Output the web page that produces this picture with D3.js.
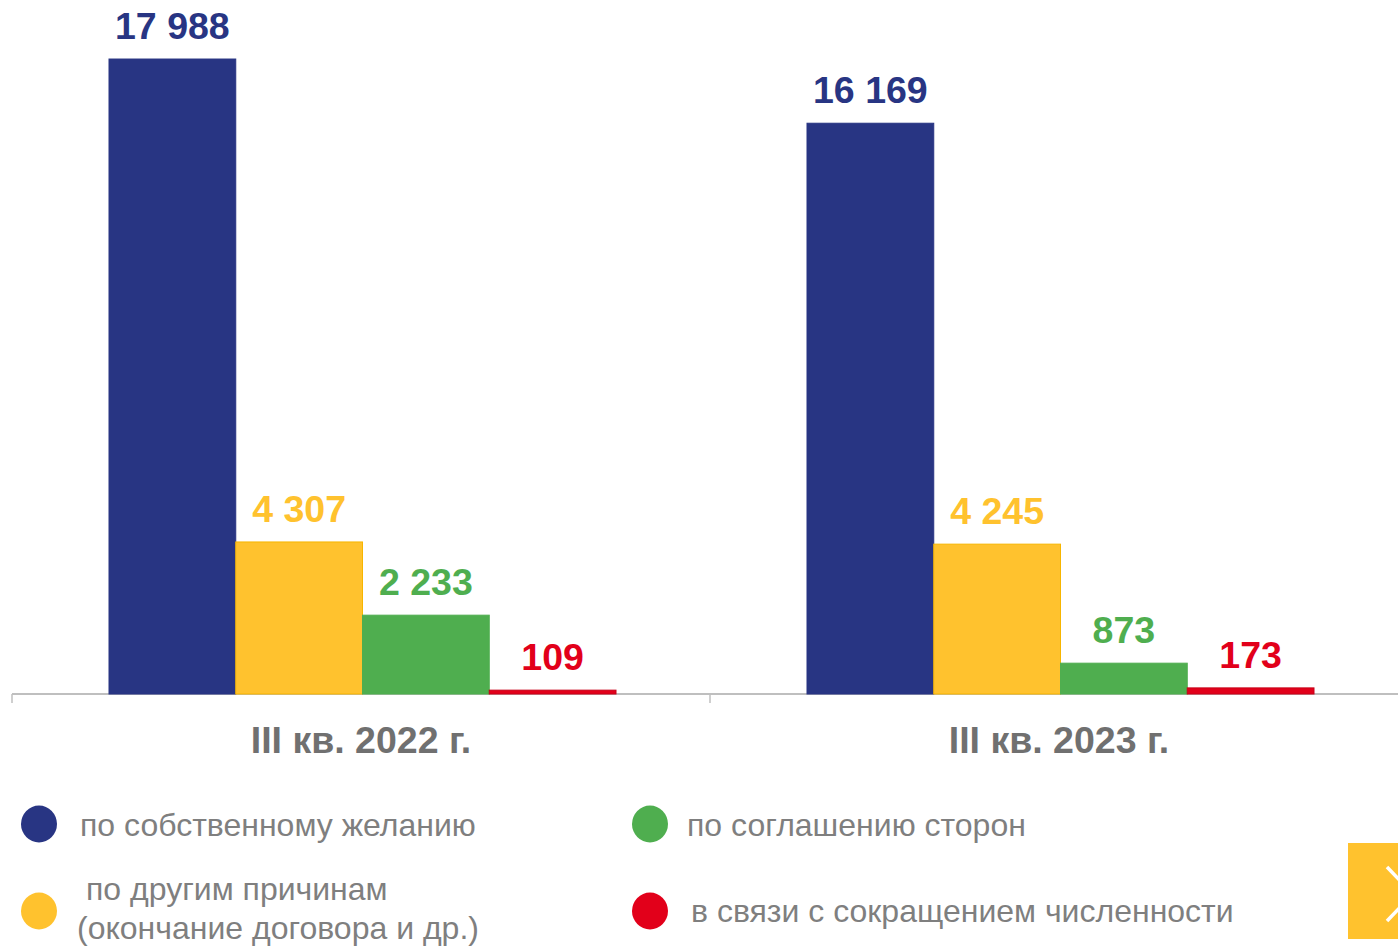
<!DOCTYPE html>
<html>
<head>
<meta charset="utf-8">
<script src="https://cdn.jsdelivr.net/npm/d3@7"></script>
<style>
  html, body { margin: 0; padding: 0; background: #fff; }
  svg { display: block; font-family: "Liberation Sans", Arial, sans-serif; }
</style>
</head>
<body>
<svg id="chart"></svg>
<script>
// data
const categories = ['III кв. 2022 г.', 'III кв. 2023 г.'];
const seriesNames = [
  'по собственному желанию',
  'по другим причинам',
  'по соглашению сторон',
  'в связи с сокращением численности'
];
const values2022 = [17988, 4307, 2233, 109];
const values2023 = [16169, 4245, 873, 173];
const valueLabels2022 = ['17 988', '4 307', '2 233', '109'];
const valueLabels2023 = ['16 169', '4 245', '873', '173'];

const colors = ['#283583', '#FFC22E', '#4FAE4F', '#E2001A'];
const strokes = ['#283583', '#F7B500', '#4FAE4F', '#C80018'];

const width = 1398;
const height = 946;
const baseY = 694;

const svg = d3.select('#chart').attr('width', width).attr('height', height);

const xScale = d3.scaleBand().domain(categories).range([12, 1408]);
const innerScale = d3.scaleBand().domain(d3.range(4)).range([97, 604]);
const yScale = d3.scaleLinear().domain([0, 20000]).range([baseY, baseY - 706]);

const groups = categories.map((c, i) => ({
  cat: c,
  vals: i === 0 ? values2022 : values2023,
  labels: i === 0 ? valueLabels2022 : valueLabels2023
}));

// axis
const axisG = svg.append('g').attr('transform', `translate(0, ${baseY})`);
axisG.call(d3.axisBottom(xScale).tickSize(0).tickFormat(''));
axisG.select('.domain').remove();
axisG.append('line')
  .attr('x1', 12).attr('x2', width)
  .attr('stroke', '#BFBFBF').attr('stroke-width', 2);
categories.forEach(c => {
  axisG.append('line')
    .attr('x1', xScale(c)).attr('x2', xScale(c))
    .attr('y1', 0).attr('y2', 9)
    .attr('stroke', '#BFBFBF').attr('stroke-width', 1.5);
});

// bars
groups.forEach(g => {
  const gx = xScale(g.cat);
  const gg = svg.append('g').attr('transform', `translate(${gx}, 0)`);
  gg.selectAll('rect')
    .data(g.vals)
    .join('rect')
    .attr('x', (d, i) => innerScale(i))
    .attr('y', d => yScale(d))
    .attr('width', innerScale.bandwidth())
    .attr('height', d => baseY - yScale(d))
    .attr('fill', (d, i) => colors[i])
    .attr('stroke', (d, i) => strokes[i])
    .attr('stroke-width', 1);

  gg.selectAll('text.val')
    .data(g.vals)
    .join('text')
    .attr('class', 'val')
    .attr('x', (d, i) => innerScale(i) + innerScale.bandwidth() / 2)
    .attr('y', d => yScale(d) - 20)
    .attr('text-anchor', 'middle')
    .attr('font-weight', 'bold')
    .attr('font-size', 37.5)
    .attr('fill', (d, i) => colors[i])
    .text((d, i) => g.labels[i]);

  svg.append('text')
    .attr('x', gx + xScale.bandwidth() / 2)
    .attr('y', 753)
    .attr('text-anchor', 'middle')
    .attr('font-weight', 'bold')
    .attr('font-size', 37.5)
    .attr('fill', '#707070')
    .text(g.cat);
});

// legend
const legendItems = [
  { cx: 39, cy: 824, lines: [{ t: seriesNames[0], x: 80, y: 836 }] },
  { cx: 39, cy: 911, lines: [{ t: seriesNames[1], x: 86, y: 900 }, { t: '(окончание договора и др.)', x: 77, y: 939 }] },
  { cx: 650, cy: 824, lines: [{ t: seriesNames[2], x: 687, y: 836 }] },
  { cx: 650, cy: 911, lines: [{ t: seriesNames[3], x: 691, y: 922 }] }
];
legendItems.forEach((item, i) => {
  svg.append('ellipse')
    .attr('cx', item.cx).attr('cy', item.cy)
    .attr('rx', 18).attr('ry', 18.5)
    .attr('fill', colors[i]);
  item.lines.forEach(l => {
    svg.append('text')
      .attr('x', l.x).attr('y', l.y)
      .attr('font-size', 32)
      .attr('fill', '#7F7F7F')
      .text(l.t);
  });
});

// next button
svg.append('rect')
  .attr('x', 1348).attr('y', 843)
  .attr('width', 60).attr('height', 96)
  .attr('fill', '#FFC22E');
svg.append('path')
  .attr('d', 'M1387,867 L1413,894 L1387,921')
  .attr('fill', 'none')
  .attr('stroke', '#fff')
  .attr('stroke-width', 3.5);
</script>
</body>
</html>
